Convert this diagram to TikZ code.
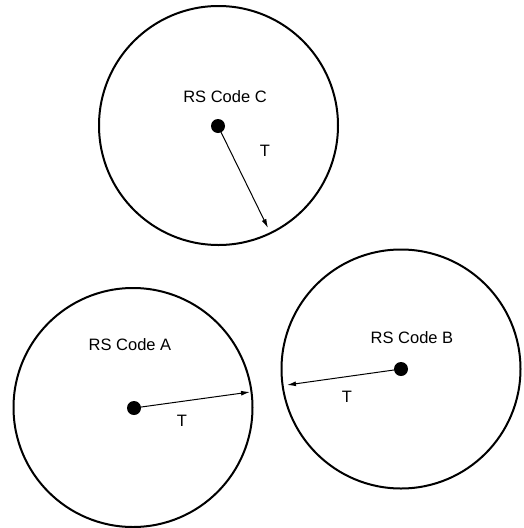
\documentclass[tikz,border=0pt]{standalone}
\usepackage{fontspec}
\setmainfont{Liberation Sans}
\usetikzlibrary{arrows.meta}
\begin{document}
\begin{tikzpicture}[x=1pt,y=-1pt,
  region/.style={draw=black,line width=2pt,circle,minimum size=239pt,inner sep=0pt},
  centre/.style={fill=black,circle,minimum size=14pt,inner sep=0pt},
  radius/.style={line width=1pt,-{Latex[length=9pt,width=5pt]}},
  lbl/.style={font=\fontsize{16.5}{18}\selectfont,inner sep=0pt}]
\useasboundingbox (0,0) rectangle (523,528);
% circle C
\node[region] (cC) at (218.5,125.5) {};
\node[centre] (dC) at (218,126) {};
\coordinate (eC) at (268,228);
\draw[radius] (dC.center) -- (eC);
\node[lbl] (tC) at (225,97) {RS Code C};
\node[lbl] (rC) at (265,151) {T};
% circle A
\node[region] (cA) at (133,407.5) {};
\node[centre] (dA) at (134,408) {};
\coordinate (eA) at (250,392);
\draw[radius] (dA.center) -- (eA);
\node[lbl] (tA) at (130,345) {RS Code A};
\node[lbl] (rA) at (182,421) {T};
% circle B
\node[region] (cB) at (401,369) {};
\node[centre] (dB) at (401,369) {};
\coordinate (eB) at (287,385);
\draw[radius] (dB.center) -- (eB);
\node[lbl] (tB) at (412,338) {RS Code B};
\node[lbl] (rB) at (347,397) {T};
\end{tikzpicture}
\end{document}
